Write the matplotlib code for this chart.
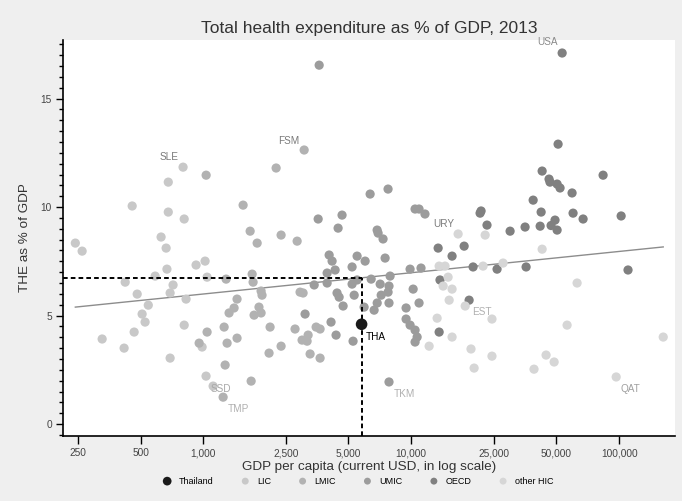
import numpy as np
import matplotlib.pyplot as plt
from matplotlib.ticker import FixedLocator, MultipleLocator, FuncFormatter

plt.rcParams['font.family'] = ['Liberation Sans', 'DejaVu Sans']

# GDP per capita (current USD) and total health expenditure (% of GDP), 2013
lic_gdp = [243, 262, 456, 801, 680, 680, 811, 628, 664, 925, 1022, 670, 588, 422, 482,
           717, 694, 828, 545, 509, 526, 466, 327, 417, 694, 811, 1033, 1117, 989, 1045]
lic_the = [8.34, 7.97, 10.05, 11.84, 11.15, 9.77, 9.45, 8.62, 8.11, 7.33, 7.51, 7.14, 6.82, 6.54, 5.99,
           6.41, 6.04, 5.76, 5.48, 5.07, 4.70, 4.24, 3.92, 3.50, 3.04, 4.56, 2.21, 1.75, 3.55, 6.77]

lmic_gdp = [1034, 1557, 2244, 3061, 1683, 1819, 2371, 2832, 1290, 1721, 1739, 1900, 1920, 1456,
            1409, 1333, 1856, 1758, 1900, 1045, 957, 1262, 1304, 1456, 1276, 1248, 1702, 2099,
            2075, 2371, 2767, 2991, 3162, 3198, 3494, 3651, 3269, 3651, 2925, 3025]
lmic_the = [11.47, 10.09, 11.80, 12.63, 8.89, 8.34, 8.71, 8.43, 6.68, 6.91, 6.54, 6.13, 5.94, 5.76,
            5.35, 5.12, 5.39, 5.02, 5.12, 4.24, 3.73, 4.47, 3.73, 3.96, 2.72, 1.24, 1.98, 4.47,
            3.27, 3.59, 4.38, 3.87, 3.82, 4.10, 4.47, 4.38, 3.23, 3.04, 6.08, 6.04]

umic_gdp = [3614, 3574, 4457, 4656, 4036, 4170, 4312, 3947, 3947, 3420, 4405, 4508, 4711, 5203,
            5500, 5203, 5500, 5325, 3092, 4122, 4357, 5260, 6353, 7748, 6866, 6940, 7331, 6011,
            7500, 6427, 7925, 9887, 11160, 7100, 7830, 7750, 7180, 7830, 6870, 6640, 5943, 10230,
            10920, 9460, 9460, 9890, 10450, 10690, 10450, 7830, 10450, 10920, 11660]
umic_the = [16.54, 9.45, 9.03, 9.63, 7.79, 7.51, 7.10, 6.96, 6.50, 6.41, 6.04, 5.85, 5.44, 7.24,
            7.74, 6.45, 6.64, 5.94, 5.07, 4.70, 4.10, 3.82, 10.60, 10.83, 8.94, 8.80, 8.53, 7.51,
            7.65, 6.68, 6.82, 7.14, 7.19, 6.45, 6.36, 6.08, 5.94, 5.58, 5.58, 5.25, 5.39, 6.22,
            5.58, 5.35, 4.84, 4.56, 4.33, 4.01, 3.78, 1.94, 9.91, 9.91, 9.68]

oecd_gdp = [53240, 50900, 42660, 46050, 46540, 50350, 52020, 59420, 83770, 38620, 42190, 60080,
            67140, 49200, 41730, 47100, 50350, 35320, 29920, 102300, 23170, 21460, 21700, 17990,
            13490, 15740, 19860, 25900, 35720, 110400, 13770, 19010, 13640]
oecd_the = [17.10, 12.90, 11.66, 11.29, 11.15, 11.06, 10.88, 10.65, 11.47, 10.32, 9.77, 9.72,
            9.45, 9.40, 9.12, 9.15, 8.94, 9.08, 8.89, 9.59, 9.17, 9.72, 9.82, 8.20,
            8.11, 7.74, 7.24, 7.14, 7.24, 7.10, 6.64, 5.71, 4.24]

hic_gdp = [16830, 22700, 42660, 13640, 14560, 15060, 14260, 15740, 15240, 18200, 22180, 27680,
           24480, 13340, 15740, 12210, 19410, 24480, 20090, 38990, 44560, 48720, 56230, 62820,
           96830, 163000]
hic_the = [8.76, 8.71, 8.06, 7.28, 7.28, 6.77, 6.36, 6.22, 5.71, 5.44, 7.28, 7.42,
           4.84, 4.88, 4.01, 3.59, 3.46, 3.13, 2.58, 2.53, 3.18, 2.86, 4.56, 6.50,
           2.17, 4.01]

tha_gdp = 5780
tha_the = 4.6

# linear fit of THE on log10(GDP per capita)
trend_intercept = 3.05
trend_slope = 0.981

x_ticks = [250, 500, 1000, 2500, 5000, 10000, 25000, 50000, 100000]
y_ticks = [0, 5, 10, 15]

groups = {
    'LIC': (lic_gdp, lic_the, '#c8c8c8'),
    'LMIC': (lmic_gdp, lmic_the, '#b2b2b2'),
    'UMIC': (umic_gdp, umic_the, '#9c9c9c'),
    'OECD': (oecd_gdp, oecd_the, '#808080'),
    'other HIC': (hic_gdp, hic_the, '#d6d6d6'),
}

# country codes: group, index into group arrays, text offset (px), colour
labels = [
    ('USA', 'OECD', 0, (-15, 11), '#8a8a8a'),
    ('SLE', 'LIC', 3, (-14, 10), '#7a7a7a'),
    ('FSM', 'LMIC', 3, (-15, 9), '#7a7a7a'),
    ('URY', 'other HIC', 0, (-14, 10), '#7a7a7a'),
    ('EST', 'other HIC', 12, (-10, 7), '#b0b0b0'),
    ('TKM', 'UMIC', 49, (15, -12), '#b0b0b0'),
    ('QAT', 'other HIC', 24, (14, -12), '#a0a0a0'),
    ('SSD', 'LIC', 27, (8, -3), '#a8a8a8'),
    ('TMP', 'LMIC', 25, (15, -12), '#b0b0b0'),
]

fig = plt.figure(figsize=(6.82, 5.01), dpi=100, facecolor='#efefef')
ax = fig.add_axes([63 / 682, 1 - 436 / 501, 612 / 682, 396 / 501])
ax.set_facecolor('white')
ax.set_xscale('log')
ax.set_xlim(212, 185700)
ax.set_ylim(-0.55, 17.7)

handles = []
for name, (gx, gy, col) in groups.items():
    h = ax.scatter(gx, gy, s=44, color=col, edgecolors='none', zorder=3, label=name)
    handles.append(h)

# trend line over the observed range
all_gdp = np.concatenate([np.array(v[0], dtype=float) for v in groups.values()] + [[tha_gdp]])
xs = np.array([all_gdp.min(), all_gdp.max()])
ax.plot(xs, trend_intercept + trend_slope * np.log10(xs), color='#8c8c8c', lw=1.0, zorder=2)

# Thailand: predicted THE at its GDP level
tha_fit = trend_intercept + trend_slope * np.log10(tha_gdp)
ax.plot([ax.get_xlim()[0], tha_gdp], [tha_fit, tha_fit], color='black', lw=1.4,
        dashes=(2.4, 1.6), zorder=4)
ax.plot([tha_gdp, tha_gdp], [ax.get_ylim()[0], tha_fit], color='black', lw=1.4,
        dashes=(2.4, 1.6), zorder=4)
h_tha = ax.scatter([tha_gdp], [tha_the], s=70, color='#1a1a1a', edgecolors='none', zorder=5,
                   label='Thailand')
ax.annotate('THA', (tha_gdp, tha_the), xytext=(14, -13), textcoords='offset pixels',
            ha='center', va='center', fontsize=7.2, color='black', zorder=6)

for code, grp, idx, off, col in labels:
    gx, gy, _ = groups[grp]
    ax.annotate(code, (gx[idx], gy[idx]), xytext=off, textcoords='offset pixels',
                ha='center', va='center', fontsize=7.2, color=col, zorder=6)

ax.xaxis.set_major_locator(FixedLocator(x_ticks))
ax.xaxis.set_minor_locator(FixedLocator([]))
ax.xaxis.set_major_formatter(FuncFormatter(lambda v, p: f'{v:,.0f}'))
ax.yaxis.set_major_locator(FixedLocator(y_ticks))
ax.yaxis.set_minor_locator(MultipleLocator(0.5))

for s in ['top', 'right']:
    ax.spines[s].set_visible(False)
for s in ['left', 'bottom']:
    ax.spines[s].set_linewidth(1.2)
ax.tick_params(axis='both', which='major', direction='out', length=5, width=1,
               labelsize=7.3, labelcolor='#444444', pad=3)
ax.tick_params(axis='y', which='minor', direction='out', length=3, width=1)
ax.tick_params(axis='x', which='major', length=6)

ax.set_title('Total health expenditure as % of GDP, 2013', fontsize=12.5, color='#333333', pad=5)
ax.set_xlabel('GDP per capita (current USD, in log scale)', fontsize=9.7, color='#333333',
              labelpad=2)
ax.set_ylabel('THE as % of GDP', fontsize=9.7, color='#333333')
ax.yaxis.set_label_coords(-0.052, 0.5)

fig.legend([h_tha] + handles, ['Thailand'] + list(groups.keys()), loc='center',
           bbox_to_anchor=(358 / 682, 1 - 481 / 501), ncol=6, frameon=False, fontsize=6.5,
           handlelength=1, handletextpad=0.8, columnspacing=3.0, markerscale=0.75)

fig.savefig('out.png', dpi=100, facecolor=fig.get_facecolor())
